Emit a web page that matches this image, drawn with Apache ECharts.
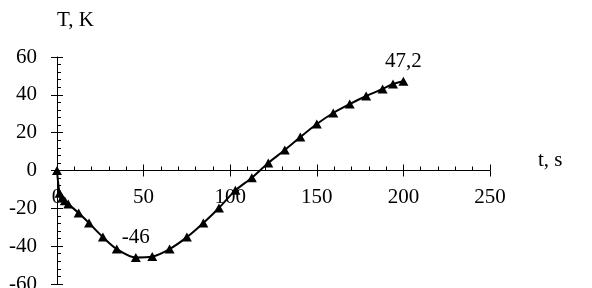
<!DOCTYPE html>
<html>
<head>
<meta charset="utf-8">
<script src="https://cdn.jsdelivr.net/npm/echarts@6/dist/echarts.min.js"></script>
<style>
html,body{margin:0;padding:0;background:#fff;}
#c{width:592px;height:288px;}
</style>
</head>
<body>
<div id="c"></div>
<script>
const timeS = [0, 1.5, 3, 4.5, 6.5, 12.5, 18.5, 26.5, 34.5, 45.5, 55, 65, 75, 84.5, 93.5, 103, 112.5, 122, 131.5, 140.5, 150, 159.5, 169, 178.5, 188, 194, 200];
const tempK = [0, -12, -14.5, -16, -17.7, -22.5, -27.8, -35.2, -41.5, -46, -45.5, -41.5, -35.2, -27.7, -19.8, -10.5, -3.8, 4, 10.8, 17.7, 24.6, 30.4, 35.1, 39.4, 43.1, 45.7, 47.2];
const labelledIdx = [9, 26];
const xName = 't, s';
const yName = 'T, K';

const font = 'Liberation Serif, Times New Roman, serif';
const fs = 21;

const data = timeS.map((t, i) => {
  const d = { value: [t, tempK[i]] };
  if (labelledIdx.includes(i)) {
    d.label = { show: true, position: 'top', distance: 5,
      formatter: p => String(p.value[1]).replace('.', ','),
      fontFamily: font, fontSize: fs, color: '#000' };
  }
  return d;
});

const gridTop = 57, gridBottom = 4, H = 288;
const zeroOffset = -((H - gridTop - gridBottom) / 2); // y = 0 sits at the middle of the plot (range -60..60)

const chart = echarts.init(document.getElementById('c'), null, { renderer: 'canvas' });
const baseX = { type: 'value', min: 0, max: 250, interval: 50, splitLine: { show: false }, position: 'bottom', offset: zeroOffset };
const baseY = { type: 'value', min: -60, max: 60, interval: 20, splitLine: { show: false }, position: 'left', offset: 0 };
const lineSt = { color: '#000', width: 1 };
chart.setOption({
  animation: false,
  backgroundColor: '#fff',
  grid: { left: 57, right: 102, top: gridTop, bottom: gridBottom, outerBoundsMode: 'none', containLabel: false },
  xAxis: [
    Object.assign({}, baseX, {
      name: xName, nameLocation: 'end', nameGap: 48,
      nameTextStyle: { fontFamily: font, fontSize: fs, color: '#000', align: 'left', verticalAlign: 'bottom' },
      axisLine: { show: true, onZero: false, lineStyle: lineSt },
      axisTick: { show: true, inside: false, length: 6, lineStyle: { color: '#000' } },
      axisLabel: { fontFamily: font, fontSize: fs, color: '#000', margin: 16 }
    }),
    Object.assign({}, baseX, {
      axisLine: { show: false, onZero: false },
      axisTick: { show: true, inside: true, length: 6, lineStyle: { color: '#000' } },
      minorTick: { show: true, splitNumber: 5, length: 4, lineStyle: { color: '#000' } },
      axisLabel: { show: false }
    })
  ],
  yAxis: [
    Object.assign({}, baseY, {
      name: yName, nameLocation: 'end', nameGap: 37,
      nameTextStyle: { fontFamily: font, fontSize: fs, color: '#000', align: 'left', verticalAlign: 'middle' },
      axisLine: { show: true, onZero: false, lineStyle: lineSt },
      axisTick: { show: true, inside: false, length: 6, lineStyle: { color: '#000' } },
      axisLabel: { fontFamily: font, fontSize: fs, color: '#000', margin: 20 }
    }),
    Object.assign({}, baseY, {
      axisLine: { show: false, onZero: false },
      axisTick: { show: true, inside: true, length: 6, lineStyle: { color: '#000' } },
      minorTick: { show: true, splitNumber: 5, length: 4, lineStyle: { color: '#000' } },
      axisLabel: { show: false }
    })
  ],
  series: [{
    type: 'line',
    xAxisIndex: 0, yAxisIndex: 0,
    data: data,
    smooth: 0.3,
    symbol: 'triangle',
    symbolSize: [10, 9],
    showAllSymbol: true,
    lineStyle: { color: '#000', width: 2 },
    itemStyle: { color: '#000' },
    z: 5
  }]
});
</script>
</body>
</html>
